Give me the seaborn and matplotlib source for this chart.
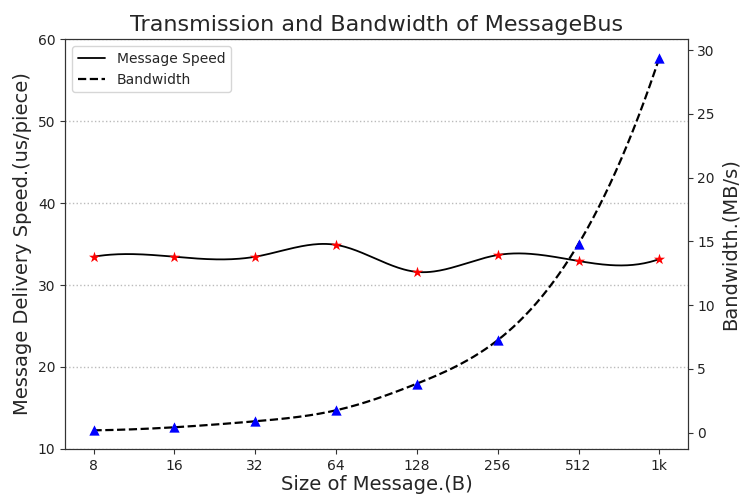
import numpy as np
import pandas as pd
import matplotlib
matplotlib.use("Agg")
import matplotlib.pyplot as plt
from matplotlib.lines import Line2D
import seaborn as sns

# ---- data ----
sizes = ["8", "16", "32", "64", "128", "256", "512", "1k"]
speed = [33.45, 33.45, 33.45, 34.9, 31.6, 33.66, 32.93, 33.17]   # us/piece
bandwidth = [0.18, 0.42, 0.89, 1.75, 3.84, 7.25, 14.8, 29.4]     # MB/s


def not_a_knot_spline(y, num=300):
    """Cubic spline (not-a-knot) through equally spaced points, numpy only."""
    y = np.asarray(y, float)
    n = len(y)
    A = np.zeros((n, n))
    b = np.zeros(n)
    A[0, 0:3] = [1, -2, 1]
    A[-1, -3:] = [1, -2, 1]
    for i in range(1, n - 1):
        A[i, i - 1:i + 2] = [1, 4, 1]
        b[i] = 6 * (y[i + 1] - 2 * y[i] + y[i - 1])
    M = np.linalg.solve(A, b)
    t = np.linspace(0, n - 1, num)
    idx = np.clip(np.floor(t).astype(int), 0, n - 2)
    u = t - idx
    s = (M[idx] * (1 - u) ** 3 / 6 + M[idx + 1] * u ** 3 / 6
         + (y[idx] - M[idx] / 6) * (1 - u) + (y[idx + 1] - M[idx + 1] / 6) * u)
    return t, s


xpos = np.arange(len(sizes))
pts = pd.DataFrame({"x": xpos, "speed": speed, "bw": bandwidth})
ts, ss = not_a_knot_spline(speed)
tb, sb = not_a_knot_spline(bandwidth)
curve_s = pd.DataFrame({"x": ts, "y": ss})
curve_b = pd.DataFrame({"x": tb, "y": sb})

sns.set_style("ticks")
plt.rcParams["font.family"] = ["DejaVu Sans"]

fig, ax1 = plt.subplots(figsize=(7.41, 4.95), dpi=100)
fig.subplots_adjust(left=0.088, right=0.928, top=0.921, bottom=0.093)

ax1.set_ylim(10, 60)
ax1.yaxis.grid(True, linestyle=":", color="#bbbbbb", linewidth=1)
ax1.set_axisbelow(True)

sns.lineplot(data=curve_s, x="x", y="y", ax=ax1, color="black", linewidth=1.3,
             sort=False, estimator=None, legend=False)
sns.scatterplot(data=pts, x="x", y="speed", ax=ax1, marker="*", color="red",
                s=70, linewidth=0, zorder=3, legend=False)

ax2 = ax1.twinx()
sns.lineplot(data=curve_b, x="x", y="y", ax=ax2, color="black", linewidth=1.6,
             linestyle="--", sort=False, estimator=None, legend=False)
sns.scatterplot(data=pts, x="x", y="bw", ax=ax2, marker="^", color="blue",
                s=55, linewidth=0, zorder=3, legend=False)

ax1.set_xticks(xpos)
ax1.set_xticklabels(sizes)
ax1.set_xlim(-0.35, len(sizes) - 1 + 0.35)

ax1.set_xlabel("Size of Message.(B)", fontsize=14, labelpad=2)
ax1.set_ylabel("Message Delivery Speed.(us/piece)", fontsize=14)
ax2.set_ylabel("Bandwidth.(MB/s)", fontsize=14)
ax1.set_title("Transmission and Bandwidth of MessageBus", fontsize=16)

for a in (ax1, ax2):
    a.tick_params(labelsize=10, colors="#333333", labelcolor="#222222")
    for sp in a.spines.values():
        sp.set_visible(True)
        sp.set_color("#333333")

handles = [Line2D([], [], color="black", linewidth=1.3, linestyle="-"),
           Line2D([], [], color="black", linewidth=1.6, linestyle="--")]
ax2.legend(handles, ["Message Speed", "Bandwidth"], loc="upper left",
           fontsize=10, frameon=True)

fig.savefig("out.png", dpi=100)
